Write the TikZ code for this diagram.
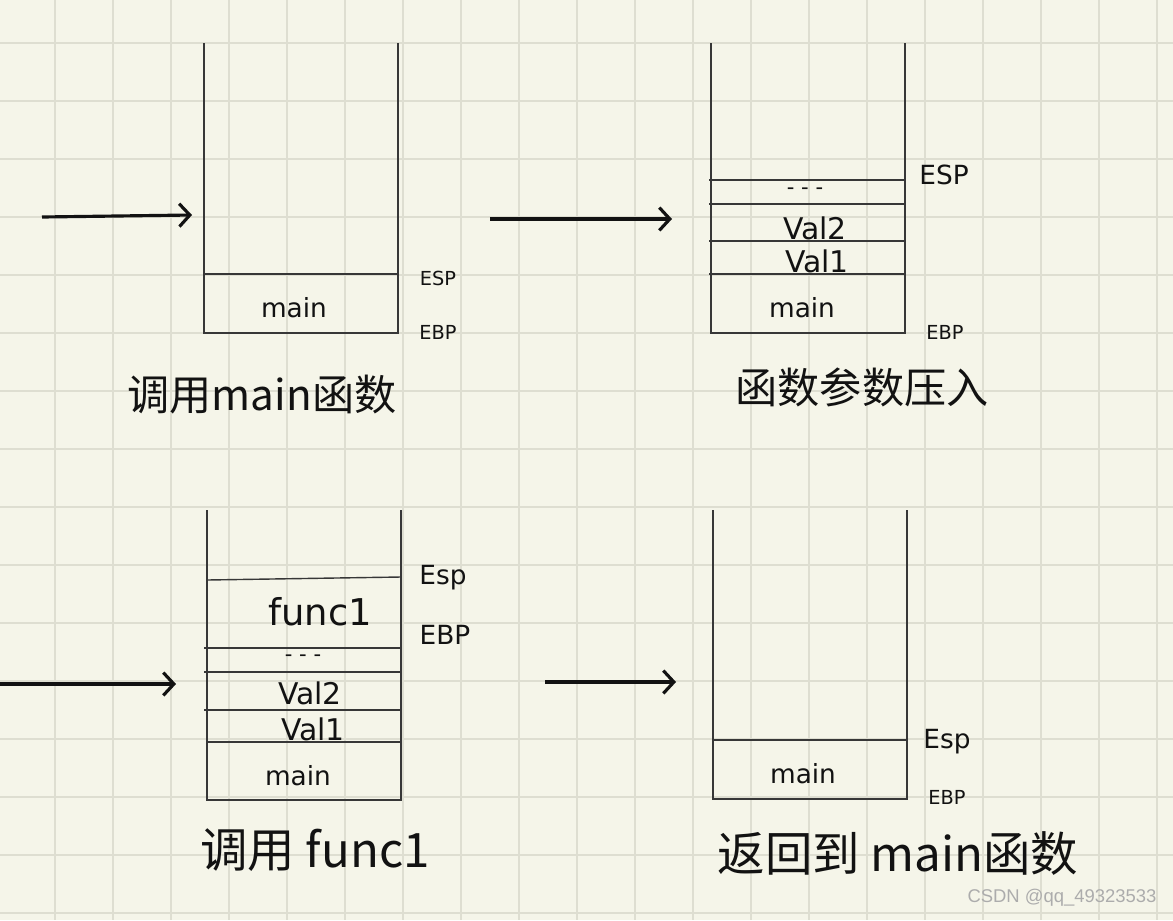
\documentclass[tikz,border=0pt]{standalone}
\usepackage{fontspec}
\setmainfont{DejaVu Sans}
\newfontfamily\cjk{Noto Sans CJK SC}
\newfontfamily\wmfont{Liberation Sans}
\usepackage{xcolor}
\usetikzlibrary{arrows.meta}
\definecolor{paper}{RGB}{245,245,233}
\definecolor{gridline}{RGB}{222,222,209}
\definecolor{ink}{RGB}{18,18,18}
\definecolor{boxline}{RGB}{55,55,55}
\definecolor{wmgrey}{RGB}{172,172,172}

\begin{document}
\begin{tikzpicture}[x=0.02cm, y=-0.02cm, >={Straight Barb[length=6pt,width=13pt]},
  every node/.style={align=center, inner sep=0pt, text=ink},
  stack/.style={draw=boxline, line width=0.8pt},
  push/.style={->, draw=ink, line width=1.8pt},
  cell/.style={font=\fontsize{15}{15}\selectfont},
  val/.style={font=\fontsize{17}{17}\selectfont},
  dots/.style={font=\fontsize{12}{12}\selectfont},
  reg/.style={font=\fontsize{11}{11}\selectfont},
  bigreg/.style={font=\fontsize{15}{15}\selectfont},
  caption/.style={font=\cjk\fontsize{24}{24}\selectfont},
  bigcaption/.style={font=\cjk\fontsize{27}{27}\selectfont}]
  % paper and grid
  \fill[paper] (0,0) rectangle (1173,920);
  \useasboundingbox (0,0) rectangle (1173,920);
  \foreach \i in {0,...,19}
    \draw[gridline, line width=1.2pt] (55+58*\i,0) -- (55+58*\i,920);
  \foreach \j in {0,...,15}
    \draw[gridline, line width=1.2pt] (0,43+58*\j) -- (1173,43+58*\j);

  % call main
  \draw[stack] (204,43) -- (204,333) -- (398,333) -- (398,43);
  \draw[stack] (204,274) -- (398,274);
  \node[cell] (main1) at (294,308) {main};
  \node[reg] (esp1) at (438,278) {ESP};
  \node[reg] (ebp1) at (438,332) {EBP};
  \node[caption] (cap1) at (262,395) {调用main函数};
  \coordinate (from1) at (42,217);
  \coordinate (to1) at (192,215);
  \draw[push] (from1) -- (to1);

  % push arguments
  \draw[stack] (711,43) -- (711,333) -- (905,333) -- (905,43);
  \foreach \y in {180,204,241,274}
    \draw[stack] (709,\y) -- (905,\y);
  \node[dots] (dots2) at (805,191) {- - -};
  \node[val] (val22) at (815,228) {Val2};
  \node[val] (val21) at (817,261) {Val1};
  \node[cell] (main2) at (802,308) {main};
  \node[bigreg] (esp2) at (944,175) {ESP};
  \node[reg] (ebp2) at (945,332) {EBP};
  \node[caption] (cap2) at (862,387) {函数参数压入};
  \coordinate (from2) at (490,219);
  \coordinate (to2) at (672,219);
  \draw[push] (from2) -- (to2);

  % call func1
  \draw[stack] (207,510) -- (207,800) -- (401,800) -- (401,510);
  \draw[stack] (207,580) -- (401,577);
  \foreach \y in {648,672,710}
    \draw[stack] (204,\y) -- (401,\y);
  \draw[stack] (207,742) -- (401,742);
  \node[font=\fontsize{21}{21}\selectfont] (func) at (320,612) {func1};
  \node[dots] (dots3) at (303,658) {- - -};
  \node[val] (val32) at (310,693) {Val2};
  \node[val] (val31) at (313,729) {Val1};
  \node[cell] (main3) at (298,776) {main};
  \node[bigreg] (esp3) at (443,578) {Esp};
  \node[bigreg] (ebp3) at (445,635) {EBP};
  \node[bigcaption] (cap3) at (315,850) {调用 func1};
  \coordinate (from3) at (0,684);
  \coordinate (to3) at (176,684);
  \draw[push] (from3) -- (to3);

  % back to main
  \draw[stack] (713,510) -- (713,799) -- (907,799) -- (907,510);
  \draw[stack] (713,740) -- (907,740);
  \node[cell] (main4) at (803,774) {main};
  \node[bigreg] (esp4) at (947,742) {Esp};
  \node[reg] (ebp4) at (947,797) {EBP};
  \node[bigcaption] (cap4) at (898,854) {返回到 main函数};
  \coordinate (from4) at (545,682);
  \coordinate (to4) at (676,682);
  \draw[push] (from4) -- (to4);

  \node[font=\wmfont\fontsize{10.5}{10.5}\selectfont, text=wmgrey] (mark) at (1062,898) {CSDN @qq\_49323533};
\end{tikzpicture}
\end{document}
